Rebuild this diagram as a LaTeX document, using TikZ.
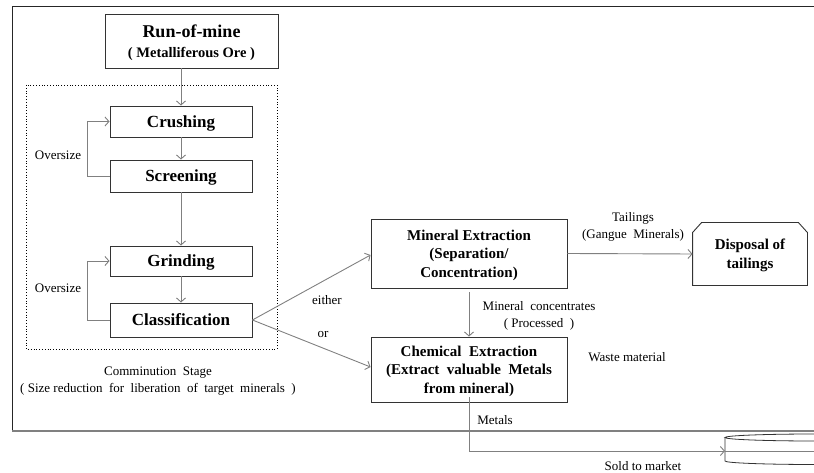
\documentclass[tikz,border=0pt]{standalone}
\usepackage{fontspec}
\setmainfont{Liberation Serif}
\usetikzlibrary{arrows.meta}

\begin{document}
\begin{tikzpicture}[
    x=1pt, y=-1pt,
    >={Straight Barb[length=4pt,width=9pt]},
    box/.style={
        draw=black!80,
        line width=0.9pt,
        align=center,
        inner sep=0pt,
        text depth=0pt,
        font=\fontsize{15}{18.7}\selectfont\bfseries
    },
    stagebox/.style={
        box,
        minimum width=142pt,
        font=\fontsize{17}{20}\selectfont\bfseries
    },
    flow/.style={
        ->,
        draw=gray,
        line width=0.9pt
    },
    note/.style={
        align=center,
        font=\fontsize{13}{16.5}\selectfont
    }
]
    \useasboundingbox (0,0) rectangle (814,473);

    % --- Outer frame ---
    \draw[black!85, line width=1pt] (814,7) -- (12,7) -- (12,431);
    \draw[gray, line width=1.2pt] (12,431) -- (814,431);

    % --- Comminution stage ---
    \draw[dotted, line width=0.8pt] (26,85) rectangle (277,349);
    \node[box, minimum width=173pt, minimum height=54pt] (rom) at (191.5,41)
        {\fontsize{18}{20}\selectfont Run-of-mine\\[1pt]
         \fontsize{14.5}{17}\selectfont ( Metalliferous Ore )};
    \node[stagebox, minimum height=31pt] (crush) at (181,121.5) {Crushing};
    \node[stagebox, minimum height=32pt] (screen) at (181,176) {Screening};
    \node[stagebox, minimum height=30pt] (grind) at (181,261) {Grinding};
    \node[stagebox, minimum height=34pt] (classif) at (181,320) {Classification};

    \node[note] (over1) at (58,155) {Oversize};
    \node[note] (over2) at (58,288) {Oversize};
    \node[note] (stage) at (158,381)
        {Comminution\ \ Stage\\( Size reduction\ \ for\ \ liberation\ \ of\ \ target\ \ minerals\ \ )};

    % --- Extraction ---
    \node[box, minimum width=196pt, minimum height=69pt] (mineral) at (469,253.5)
        {Mineral Extraction\\(Separation/\\Concentration)};
    \node[box, minimum width=196pt, minimum height=65pt] (chem) at (469,369.5)
        {Chemical\ \ Extraction\\(Extract\ \ valuable\ \ Metals\\from mineral)};
    \node[box, draw=none, minimum width=114pt, minimum height=62pt] (disp) at (750,254)
        {Disposal of\\tailings};
    \draw[black!80, line width=0.9pt]
        (disp.south west) -- ([yshift=-10pt]disp.north west)
        -- ([xshift=9pt]disp.north west) -- ([xshift=-9pt]disp.north east)
        -- ([yshift=-10pt]disp.north east) -- (disp.south east) -- cycle;

    % Market (cylinder)
    \coordinate (market) at (725,451);
    \draw[black!80, line width=0.8pt] (815,437.5) ellipse [x radius=90, y radius=3.5];
    \draw[black!80, line width=0.8pt]
        (725,437.5) -- (725,461) arc[start angle=180, end angle=0, x radius=90, y radius=3.5]
        -- (905,437.5);

    \node[note] (either) at (327,300) {either};
    \node[note] (or) at (323,334) {or};
    \node[note] (tail) at (633,227) {Tailings\\(Gangue\ \ Minerals)};
    \node[note] (conc) at (539,316) {Mineral\ \ concentrates\\( Processed\ \ )};
    \node[note] (waste) at (627,357) {Waste material};
    \node[note] (metals) at (495,420) {Metals};
    \node[note] (sold) at (643,466) {Sold to market};

    % --- Connectors ---
    \draw[flow] (rom.south -| crush.north) -- (crush.north);
    \draw[flow] (crush) -- (screen);
    \draw[flow] (screen) -- (grind);
    \draw[flow] (grind) -- (classif);
    \draw[flow] (screen.west) -- ++(-22,0) |- (crush.west);
    \draw[flow] (classif.west) -- ++(-22,0) |- (grind.west);
    \draw[flow] (classif.east) -- ([yshift=-1.5pt]mineral.west);
    \draw[flow] (classif.east) -- ([yshift=2.5pt]chem.west);
    \draw[flow] (mineral.east) -- (disp.west);
    \draw[flow, shorten <=4pt] (mineral.south) -- (chem.north);
    \draw[flow] ([yshift=5pt]chem.south) |- (market);
    \draw[gray, line width=0.6pt] (market) -- ++(100,0);
\end{tikzpicture}
\end{document}
